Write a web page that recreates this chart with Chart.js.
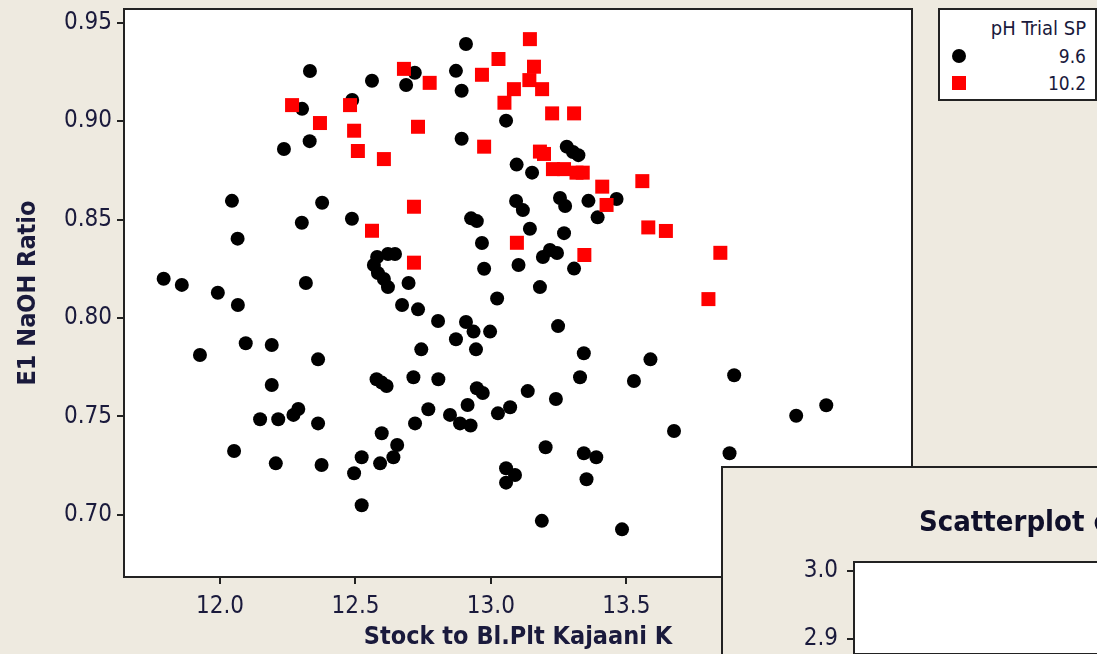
<!DOCTYPE html>
<html>
<head>
<meta charset="utf-8">
<script src="https://cdn.jsdelivr.net/npm/chart.js@4.4.1/dist/chart.umd.min.js"></script>
<style>
html,body{margin:0;padding:0;width:1097px;height:654px;overflow:hidden;background:#eeeae0;}
#main{position:absolute;left:0;top:0;}
#legend{position:absolute;left:938px;top:8px;width:159px;height:93px;box-sizing:border-box;background:#fff;border:2px solid #222;
  font-family:"DejaVu Sans Condensed","DejaVu Sans",sans-serif;font-size:20px;color:#1a1a3c;}
#legend .t{position:absolute;right:9px;top:6px;}
#legend .row{position:absolute;left:0;right:9px;height:22px;line-height:22px;text-align:right;font-size:19px;}
#legend .mk{position:absolute;left:12px;top:4px;width:14px;height:14px;}
#win2{position:absolute;left:721px;top:466px;width:800px;height:200px;background:#eeeae0;border-left:2px solid #222;border-top:2px solid #222;}
#win2 canvas{position:absolute;left:0;top:0;}
#win2 .title{position:absolute;left:196px;top:36px;white-space:nowrap;font-family:"DejaVu Sans Condensed","DejaVu Sans",sans-serif;
  font-weight:bold;font-size:29px;color:#10102a;}
</style>
</head>
<body>
<canvas id="main" width="1097" height="654"></canvas>
<div id="legend"></div>
<div id="win2"><canvas id="second" width="700" height="186"></canvas><div class="title">Scatterplot of</div></div>
<script>
// pH 9.6 runs
const ph96Stock = [12.908,12.332,12.719,12.871,12.561,12.687,12.892,12.488,12.303,13.056,
  12.331,12.236,12.892,13.095,13.152,13.280,13.303,13.323,12.044,12.377,
  12.302,12.487,12.927,12.948,13.093,13.118,13.255,13.274,13.360,13.464,
  13.394,12.065,12.967,13.144,13.270,12.580,12.620,12.646,12.568,12.583,
  12.605,12.620,12.696,12.975,13.102,13.192,13.218,13.244,13.307,13.181,
  11.792,11.859,11.992,12.066,12.317,12.672,12.731,13.023,12.805,12.908,
  12.936,12.997,12.871,12.945,13.248,12.743,11.926,12.095,12.191,12.362,
  12.191,12.578,12.597,12.615,12.714,12.806,12.948,12.970,13.071,13.026,
  12.769,12.914,12.849,12.886,12.925,12.720,12.148,12.215,12.271,12.289,
  12.362,12.597,12.654,12.640,12.523,12.591,12.495,12.052,12.206,12.375,
  13.056,13.089,13.056,12.523,13.343,13.589,13.329,13.528,13.898,13.136,
  13.240,14.127,14.238,13.676,13.202,13.343,13.389,13.881,13.353,13.188,13.484];
const ph96Ratio = [0.9391,0.9254,0.9245,0.9255,0.9205,0.9183,0.9154,0.9107,0.9062,0.9002,
  0.8898,0.8858,0.8910,0.8779,0.8738,0.8870,0.8843,0.8827,0.8595,0.8585,
  0.8484,0.8504,0.8506,0.8492,0.8594,0.8548,0.8609,0.8569,0.8595,0.8604,
  0.8511,0.8403,0.8381,0.8453,0.8431,0.8310,0.8325,0.8325,0.8269,0.8228,
  0.8198,0.8157,0.8178,0.8250,0.8269,0.8310,0.8345,0.8330,0.8251,0.8157,
  0.8199,0.8168,0.8128,0.8066,0.8178,0.8066,0.8044,0.8099,0.7985,0.7980,
  0.7931,0.7931,0.7892,0.7841,0.7959,0.7841,0.7812,0.7872,0.7863,0.7790,
  0.7660,0.7689,0.7672,0.7655,0.7699,0.7689,0.7643,0.7619,0.7547,0.7516,
  0.7537,0.7558,0.7508,0.7465,0.7454,0.7465,0.7486,0.7486,0.7508,0.7538,
  0.7465,0.7415,0.7355,0.7293,0.7293,0.7262,0.7212,0.7325,0.7262,0.7254,
  0.7237,0.7203,0.7164,0.7049,0.7821,0.7790,0.7699,0.7680,0.7709,0.7629,
  0.7589,0.7504,0.7557,0.7426,0.7344,0.7313,0.7293,0.7313,0.7181,0.6970,0.6927];
// pH 10.2 runs
const ph102Stock = [13.028,12.679,12.774,12.967,13.085,13.050,12.266,12.480,12.369,12.495,
  12.731,12.509,12.605,12.975,12.716,12.561,12.716,13.096,13.144,13.159,
  13.142,13.189,13.226,13.307,13.181,13.196,13.229,13.270,13.316,13.339,
  13.559,13.411,13.427,13.581,13.646,13.345,13.847,13.803];
const ph102Ratio = [0.9315,0.9265,0.9194,0.9235,0.9162,0.9093,0.9081,0.9081,0.8990,0.8951,
  0.8971,0.8848,0.8807,0.8870,0.8565,0.8443,0.8281,0.8382,0.9416,0.9276,
  0.9208,0.9162,0.9039,0.9039,0.8845,0.8833,0.8756,0.8756,0.8738,0.8738,
  0.8695,0.8667,0.8574,0.8460,0.8442,0.8320,0.8331,0.8096];

const groupTitle = "pH Trial SP";
const groupLabels = ["9.6", "10.2"];
const xTitle = "Stock to Bl.Plt Kajaani K";
const yTitle = "E1 NaOH Ratio";
const xTicks = [12.0, 12.5, 13.0, 13.5, 14.0, 14.5];
const yTicks = [0.70, 0.75, 0.80, 0.85, 0.90, 0.95];
// the window lying over the corner
const win2Ticks = [2.9, 3.0];

const txt = "#1a1a3c";
const fam = '"DejaVu Sans Condensed","DejaVu Sans",sans-serif';

function pts(xs, ys){ return xs.map((x,i)=>({x, y:ys[i]})); }
// fixed axis size, no extra room for half labels at the ends
function fixSize(w, h){
  return s => {
    if(w != null) s.width = w;
    if(h != null) s.height = h;
    s.paddingTop = 0; s.paddingBottom = 0; s.paddingLeft = 0; s.paddingRight = 0;
  };
}

const framePlugin = {
  id:"frame",
  beforeDraw(chart){
    const a = chart.chartArea, c = chart.ctx;
    c.save(); c.fillStyle = "#fff"; c.fillRect(a.left, a.top, a.right-a.left, a.bottom-a.top); c.restore();
  },
  afterDatasetsDraw(chart){
    const a = chart.chartArea, c = chart.ctx;
    c.save(); c.strokeStyle = "#222"; c.lineWidth = 2;
    c.strokeRect(a.left, a.top, a.right-a.left, a.bottom-a.top); c.restore();
  }
};

new Chart(document.getElementById("main"), {
  type:"scatter",
  data:{datasets:[
    {label:groupLabels[0], data:pts(ph96Stock, ph96Ratio), order:2, pointStyle:"circle", pointRadius:7,
     backgroundColor:"#000", borderWidth:0, pointHoverRadius:7},
    {label:groupLabels[1], data:pts(ph102Stock, ph102Ratio), order:1, pointStyle:"rect", pointRadius:9.9,
     backgroundColor:"#ff0000", borderWidth:0, pointHoverRadius:9.9}
  ]},
  options:{
    responsive:false, animation:false, devicePixelRatio:1,
    layout:{autoPadding:false, padding:{top:9, right:185, left:0, bottom:0}},
    plugins:{legend:{display:false}, tooltip:{enabled:false}},
    scales:{
      x:{type:"linear", min:11.6456, max:14.5545,
        afterFit:fixSize(null, 77),
        afterBuildTicks:s=>{ s.ticks = xTicks.map(v=>({value:v})); },
        ticks:{color:txt, font:{family:fam, size:24}, padding:8, maxRotation:0, autoSkip:false,
          callback:v=>Number(v).toFixed(1)},
        grid:{drawOnChartArea:false, drawTicks:true, tickLength:7, color:"#222", lineWidth:2},
        border:{display:false},
        title:{display:true, text:xTitle, color:txt, font:{family:fam, size:25, weight:"bold"}, padding:{top:0, bottom:2}}
      },
      y:{type:"linear", min:0.6685, max:0.9569,
        afterFit:fixSize(124, null),
        afterBuildTicks:s=>{ s.ticks = yTicks.map(v=>({value:v})); },
        ticks:{color:txt, font:{family:fam, size:24}, padding:5, autoSkip:false,
          callback:v=>Number(v).toFixed(2)},
        grid:{drawOnChartArea:false, drawTicks:true, tickLength:7, color:"#222", lineWidth:2},
        border:{display:false},
        title:{display:true, text:yTitle, color:txt, font:{family:fam, size:25, weight:"bold"}, padding:{top:13, bottom:0}}
      }
    }
  },
  plugins:[framePlugin]
});

new Chart(document.getElementById("second"), {
  type:"scatter",
  data:{datasets:[]},
  options:{
    responsive:false, animation:false, devicePixelRatio:1,
    layout:{autoPadding:false, padding:{top:94, right:0, left:0, bottom:0}},
    plugins:{legend:{display:false}, tooltip:{enabled:false}},
    scales:{
      x:{type:"linear", display:false, min:0, max:1},
      y:{type:"linear", min:2.87794, max:3.01324,
        afterFit:fixSize(131, null),
        afterBuildTicks:s=>{ s.ticks = win2Ticks.map(v=>({value:v})); },
        ticks:{color:txt, font:{family:fam, size:24}, padding:9, callback:v=>Number(v).toFixed(1)},
        grid:{drawOnChartArea:false, drawTicks:true, tickLength:7, color:"#222", lineWidth:2},
        border:{display:false}
      }
    }
  },
  plugins:[framePlugin]
});

// legend box
const lg = document.getElementById("legend");
lg.innerHTML = `<div class="t">${groupTitle}</div>` +
  groupLabels.map((l,i)=>`<div class="row" style="top:${35 + i*27}px">` +
    `<span class="mk" style="background:${i ? "#ff0000" : "#000"};border-radius:${i ? 0 : 50}%"></span>${l}</div>`).join("");
</script>
</body>
</html>
